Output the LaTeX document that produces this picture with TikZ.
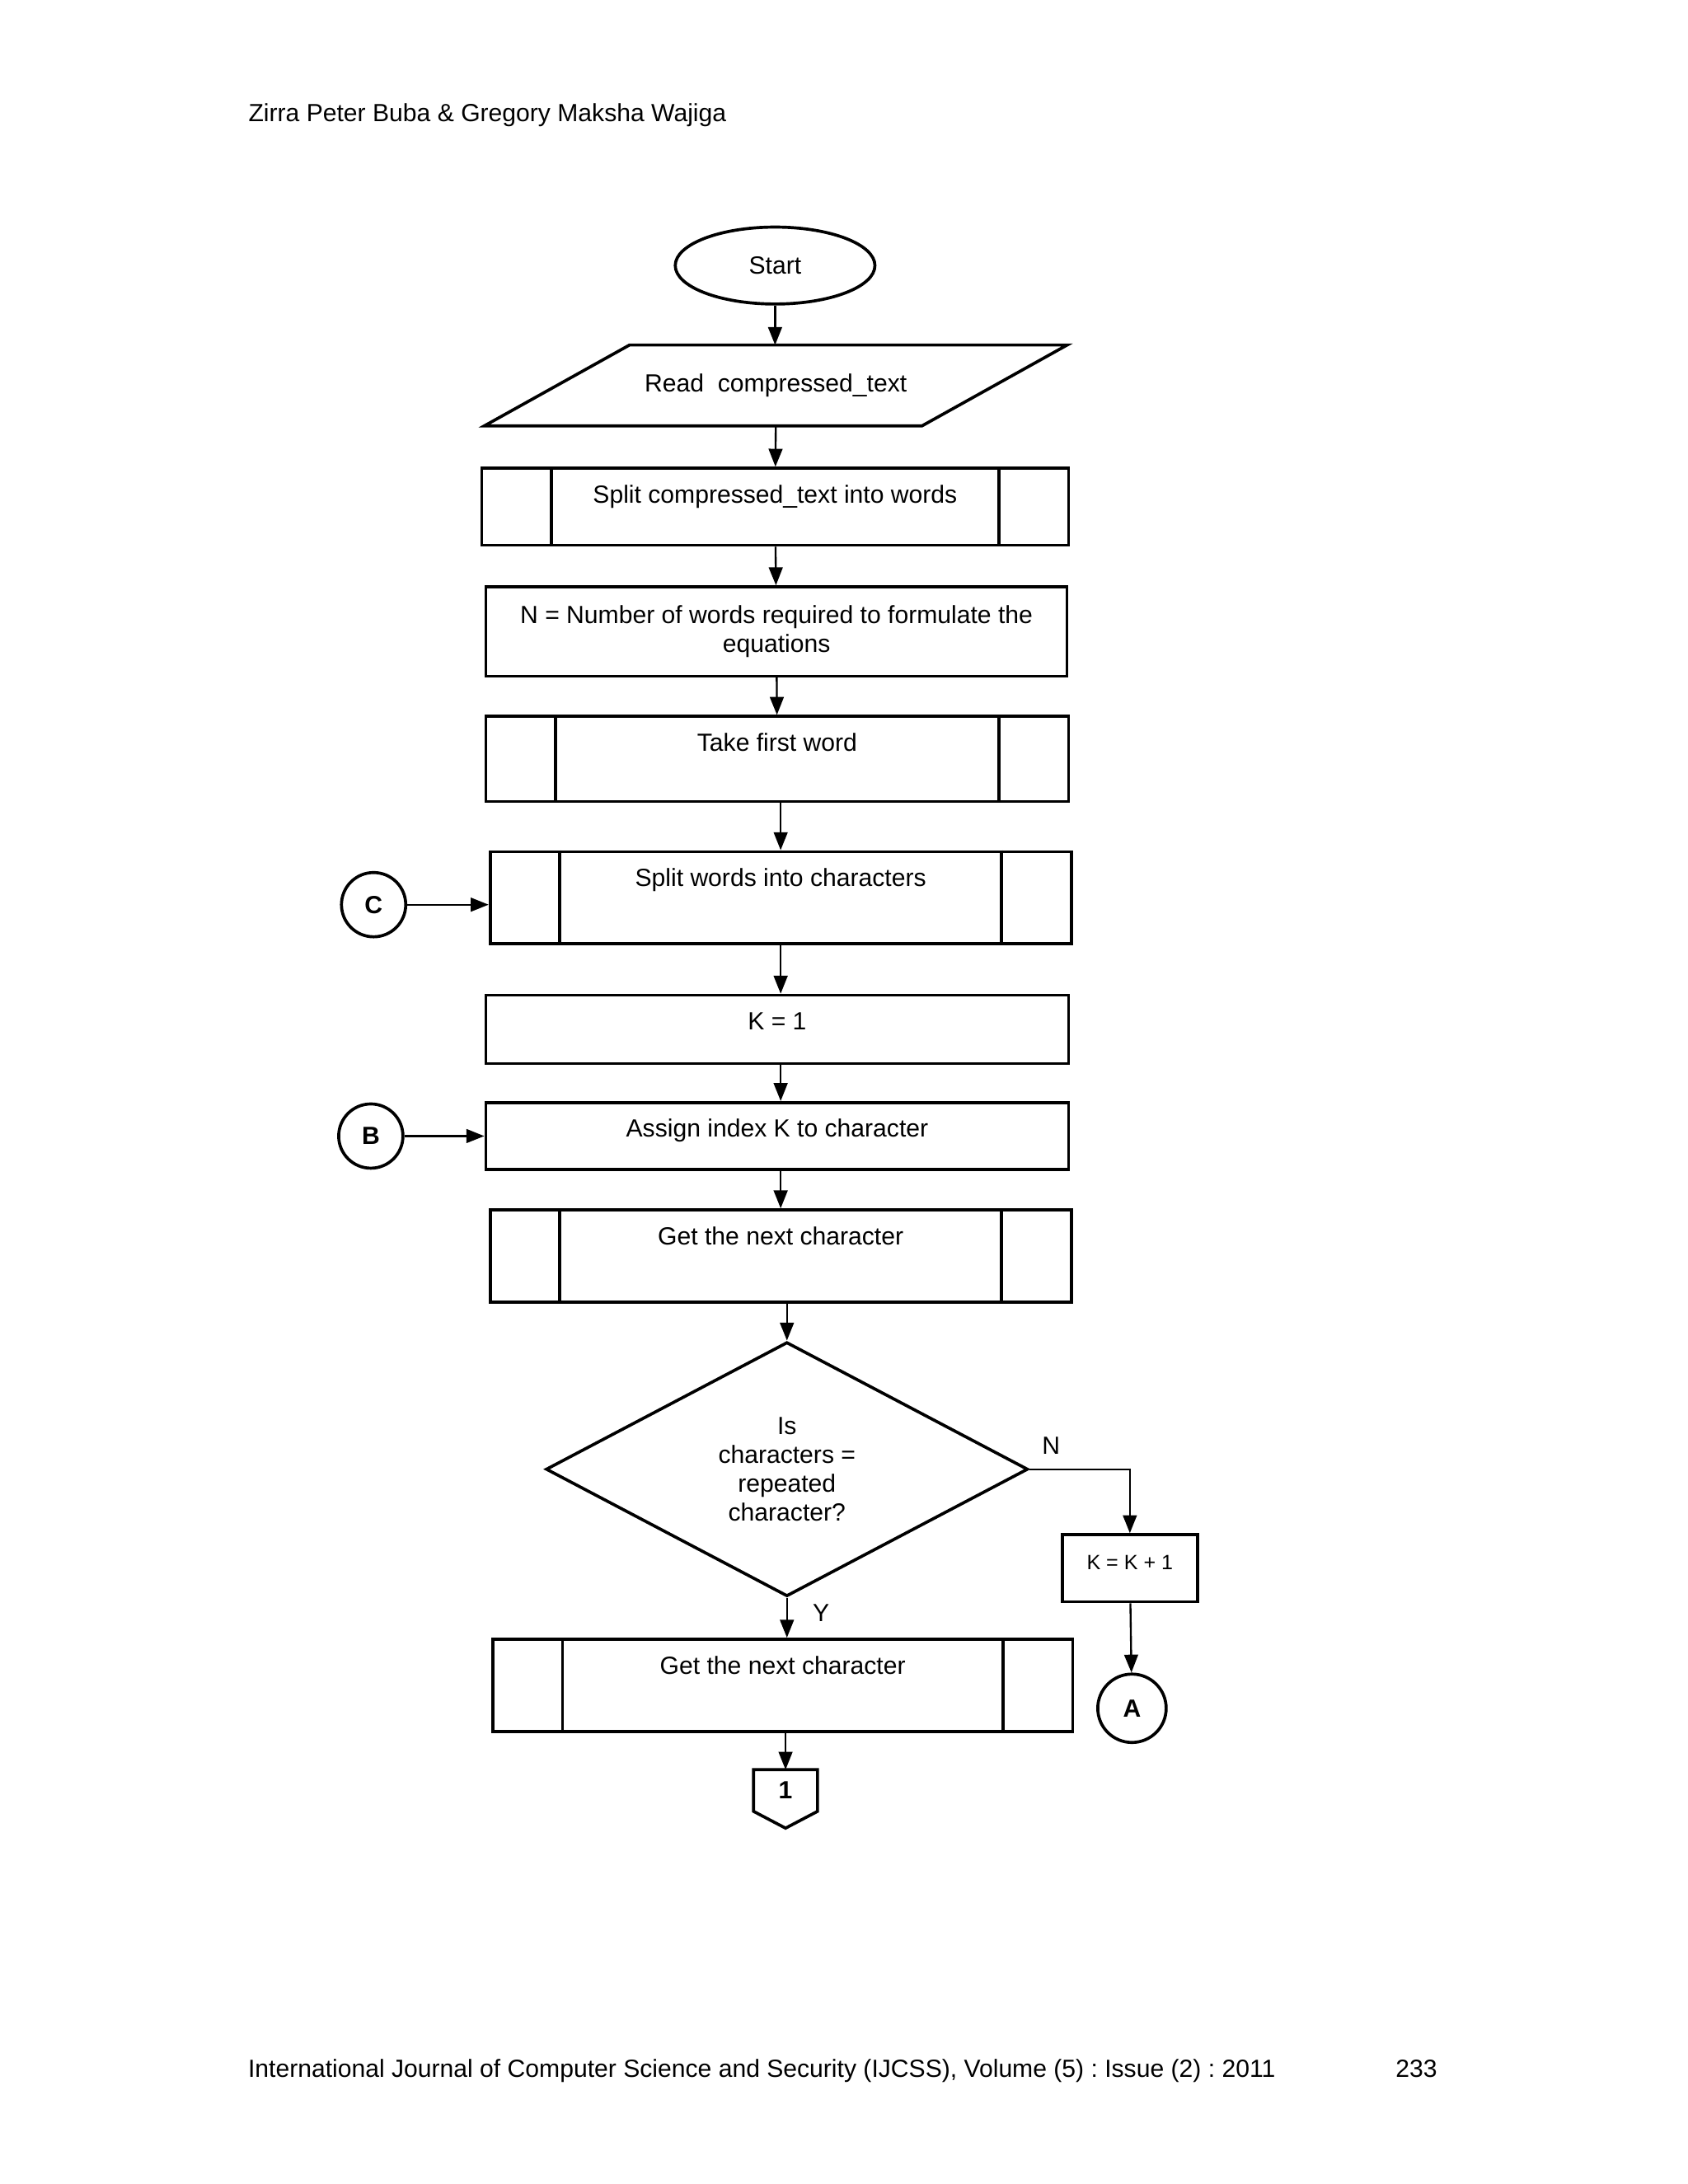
\documentclass[tikz,border=0pt]{standalone}
\usepackage{fontspec}
\setmainfont{Liberation Sans}
\usetikzlibrary{shapes.geometric,arrows.meta}

\tikzset{
  flow/.style={draw, line width=1.1pt},
  topbox/.style={flow, rectangle, inner xsep=2pt, inner ysep=0pt, text height=12.6pt, text depth=#1},
  conn/.style={flow, circle, inner sep=0pt, minimum size=23.3pt, font=\fontsize{9pt}{10pt}\selectfont\bfseries},
  pagetext/.style={anchor=base west, inner sep=0pt},
  arr/.style={line width=0.7pt, -{Triangle[length=6.5pt,width=5pt]}},
}

\begin{document}
\frenchspacing
\begin{tikzpicture}[x=0.5055pt, y=-0.5055pt, every node/.style={font=\fontsize{9pt}{10.4pt}\selectfont}]

\path[fill=white] (0,0) rectangle (1210.7,1566.8);

\node [pagetext] (head) at (177.9,87.4) {Zirra Peter Buba \& Gregory Maksha Wajiga};
\node [pagetext] (foot) at (177.6,1490.4) {International Journal of Computer Science and Security (IJCSS), Volume (5) : Issue (2) : 2011};
\node [pagetext] (page) at (1000.8,1490.4) {233};

\node [flow, ellipse, inner sep=0pt, minimum width=72.4pt, minimum height=27.9pt] (start) at (556,190.5) {Start};
\node [inner sep=0pt, minimum width=158.3pt, minimum height=28.9pt] (read) at (556.5,276.5) {Read\ \ compressed\_text};
\draw [flow] ([xshift=-26.3pt]read.south west) -- ([xshift=26.3pt]read.north west)
             -- ([xshift=26.3pt]read.north east) -- ([xshift=-26.3pt]read.south east) -- cycle;
\node [topbox=15.3pt, minimum width=212.8pt] (split) at (556,363.5) {Split compressed\_text into words};
\node [flow, inner sep=0pt, minimum width=210.7pt, minimum height=32.4pt, align=center] (nwords) at (557,453)
      {N = Number of words required to formulate the\\equations};
\node [topbox=18.3pt, minimum width=211.3pt] (first) at (557.5,544.5) {Take first word};
\node [topbox=20.8pt, minimum width=210.7pt] (chars) at (560,644) {Split words into characters};
\node [topbox=12.2pt, minimum width=211.3pt] (kone) at (557.5,738.5) {K = 1};
\node [topbox=11.7pt, minimum width=211.3pt] (assign) at (557.5,815) {Assign index K to character};
\node [topbox=20.8pt, minimum width=210.7pt] (next) at (560,901) {Get the next character};
\node [flow, diamond, inner sep=0pt, minimum width=174.8pt, minimum height=92.2pt, align=center] (test) at (564.5,1054)
      {Is\\characters =\\repeated\\character?};
\node [topbox=11.7pt, minimum width=49.1pt, font=\fontsize{7.5pt}{9pt}\selectfont] (incr) at (810.5,1125) {K = K + 1};
\node [topbox=20.8pt, minimum width=210.2pt] (nextb) at (561.5,1209) {Get the next character};

\node [conn] (C) at (268,649) {C};
\node [conn] (B) at (266,815) {B};
\node [conn, minimum size=24.8pt] (A) at (812,1225.5) {A};
\node [inner sep=0pt, minimum width=22.8pt, minimum height=14.7pt, font=\fontsize{9pt}{10pt}\selectfont\bfseries] (off) at (563.5,1284.5) {1};
\draw [flow] (off.south west) -- (off.north west) -- (off.north east) -- (off.south east) -- ([yshift=-6.1pt]off.south) -- cycle;

\node (nlab) at (754,1037) {N};
\node (ylab) at (589,1157) {Y};

% -------- predefined process bars -----------
\foreach \b in {split,first,chars,next,nextb}
  \draw [flow] ([xshift=25.8pt]\b.north west) -- ([xshift=25.8pt]\b.south west)
               ([xshift=-25.8pt]\b.north east) -- ([xshift=-25.8pt]\b.south east);

% -------- flow lines -----------
\draw [arr] (start) -- (start |- read.north);
\draw [arr] (read.south) -- (split);
\draw [arr] (split) -- (nwords);
\draw [arr] (nwords) -- (first);
\draw [arr] (first.south -| chars.north) -- (chars.north);
\draw [arr] (chars.south) -- (chars.south |- kone.north);
\draw [arr] (chars.south |- kone.south) -- (chars.south |- assign.north);
\draw [arr] (assign.south -| next.north) -- (next.north);
\draw [arr] (test.north |- next.south) -- (test.north);
\draw [arr] (test.east) -| (incr.north);
\draw [arr] (incr) -- (A);
\draw [arr] (test.south) -- (test.south |- nextb.north);
\draw [arr] (nextb.south -| off.north) -- (off.north);
\draw [arr] (C) -- (C -| chars.west);
\draw [arr] (B) -- (assign);
\end{tikzpicture}
\end{document}
